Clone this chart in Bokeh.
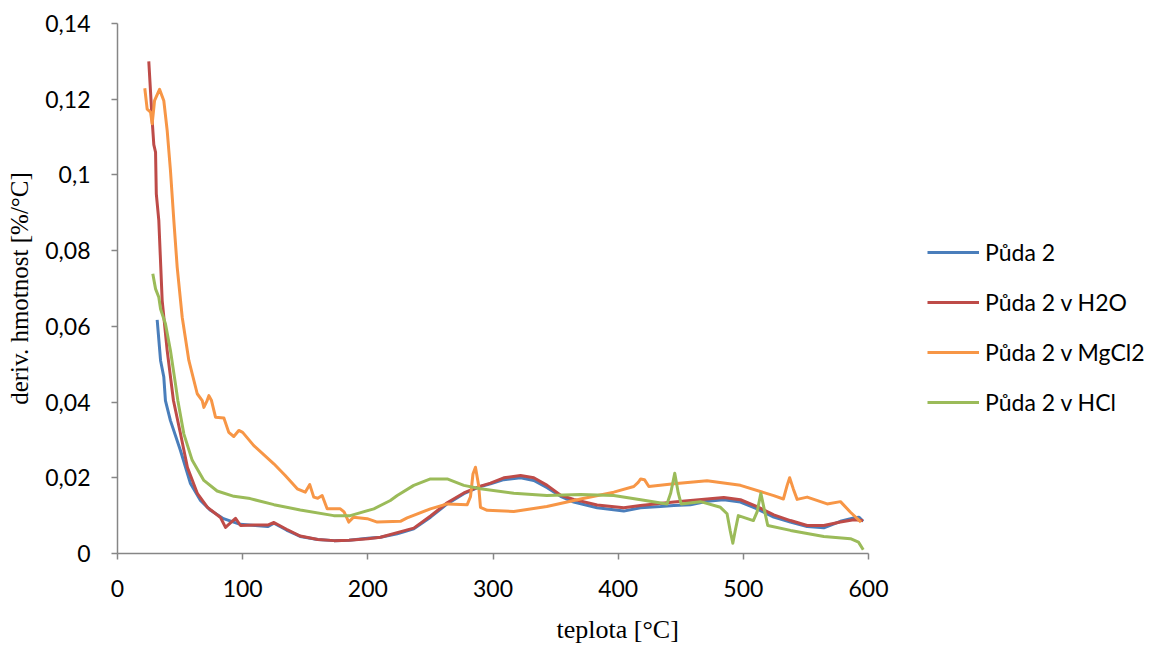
from bokeh.plotting import figure
from bokeh.models import (Legend, LegendItem, FixedTicker, Title, Range1d)
from bokeh.embed import file_html
from bokeh.resources import INLINE

# ---------------- data ----------------
x_tick_values = [0, 100, 200, 300, 400, 500, 600]
x_tick_labels = ["0", "100", "200", "300", "400", "500", "600"]
y_tick_values = [0, 0.02, 0.04, 0.06, 0.08, 0.10, 0.12, 0.14]
y_tick_labels = ["0", "0,02", "0,04", "0,06", "0,08", "0,1", "0,12", "0,14"]

series_names = ["Půda 2", "Půda 2 v H2O", "Půda 2 v MgCl2", "Půda 2 v HCl"]
series_colors = ["#4a7ebb", "#be4b48", "#f79646", "#9bbb59"]

puda_x = [31.7, 34.4, 37, 38.3, 42.3, 50.3, 58.3, 66.3, 74.3, 84.7, 98, 110, 120, 125,
          135, 146, 160, 173, 185, 200, 210.1, 223.5, 236.7, 250.1, 263.4, 276.7, 290,
          298, 308.6, 322, 332.6, 343.3, 354, 364.5, 383.2, 404.5, 417.8, 433.8, 444.5,
          457.8, 471.1, 484.4, 497.7, 511, 524.3, 537.6, 551, 564.3, 577.6, 588.2,
          592.3, 595.7]
puda_y = [0.0617, 0.051, 0.0466, 0.0404, 0.0351, 0.0272, 0.0185, 0.014, 0.0114, 0.0092,
          0.0077, 0.0074, 0.0071, 0.0080, 0.0062, 0.0045, 0.0037, 0.0034, 0.0035, 0.0040,
          0.0043, 0.0052, 0.0065, 0.0096, 0.0131, 0.0158, 0.0177, 0.0184, 0.0195, 0.0200,
          0.0193, 0.0174, 0.0151, 0.0136, 0.0121, 0.0112, 0.0121, 0.0124, 0.0127, 0.0129,
          0.0138, 0.0142, 0.0136, 0.0118, 0.0096, 0.0083, 0.0071, 0.0068, 0.0085, 0.0094,
          0.0096, 0.0085]

h2o_x = [25, 27.7, 29, 30.4, 31, 33, 35.7, 39.7, 44.7, 50.3, 55.9, 63.9, 71.9, 82.3, 86.3,
         90, 94.3, 98.3, 110, 120, 125, 135, 146, 160, 173, 185, 200, 210.1, 236.7, 250.1,
         263.4, 276.7, 290, 298, 308.6, 322, 332.6, 343.3, 354, 364.5, 383.2, 404.5,
         417.8, 444.5, 471.1, 484.4, 497.7, 511, 524.3, 537.6, 551, 564.3, 577.6, 588.2,
         595.7]
h2o_y = [0.130, 0.1144, 0.108, 0.106, 0.095, 0.088, 0.0668, 0.0536, 0.0404, 0.0317, 0.0227,
         0.0158, 0.0122, 0.0095, 0.0069, 0.0080, 0.0093, 0.0074, 0.0075, 0.0075, 0.0082,
         0.0064, 0.0046, 0.0037, 0.0034, 0.0035, 0.0039, 0.0043, 0.0067, 0.0099, 0.0134,
         0.0160, 0.0178, 0.0186, 0.0200, 0.0206, 0.0200, 0.0180, 0.0154, 0.0143, 0.0128,
         0.0121, 0.0127, 0.0136, 0.0144, 0.0148, 0.0142, 0.0124, 0.0102, 0.0087, 0.0074,
         0.0074, 0.0083, 0.0089, 0.0087]

mgcl2_x = [21.8, 23.7, 26.4, 27.7, 29.6, 33.6, 37, 39.7, 42.3, 45, 47.7, 51.7, 57, 63.7,
           67.7, 69, 71.6, 73, 75, 78.3, 85, 88.9, 92.9, 96.9, 100, 108.9, 124.9, 134,
           143.6, 150, 153.6, 156.8, 160, 163.5, 167.5, 178, 181, 184.8, 188.6, 199.5,
           207.5, 226, 231.4, 250, 263.4, 279.4, 282, 284, 286, 288.5, 290, 295.4, 316.6,
           343, 370, 396.5, 412.5, 416, 418, 421, 424.5, 444.5, 471, 497.7, 524.3, 532,
           535, 537, 540, 543, 551, 567, 577.6, 585.6, 594]
mgcl2_y = [0.1229, 0.1174, 0.1166, 0.1135, 0.1196, 0.1226, 0.1196, 0.1117, 0.1012, 0.088,
           0.0756, 0.0624, 0.051, 0.0422, 0.0404, 0.0386, 0.0404, 0.0417, 0.0405, 0.036,
           0.0358, 0.032, 0.0309, 0.0325, 0.032, 0.0285, 0.0237, 0.0206, 0.0171, 0.0162,
           0.0182, 0.0149, 0.0146, 0.0153, 0.0118, 0.0118, 0.0110, 0.0083, 0.0096, 0.0092,
           0.0083, 0.0085, 0.0094, 0.0118, 0.0131, 0.0129, 0.0150, 0.0210, 0.0228, 0.0180,
           0.0122, 0.0114, 0.0111, 0.0124, 0.0144, 0.0162, 0.0177, 0.0188, 0.0197, 0.0195,
           0.0177, 0.0184, 0.0192, 0.0180, 0.0153, 0.0144, 0.0180, 0.0200, 0.0170, 0.0143,
           0.0149, 0.0131, 0.0137, 0.0109, 0.0083]

hcl_x = [28.2, 30.4, 33, 34.4, 38.3, 42.3, 46.3, 48.2, 53, 59.7, 69, 79.6, 93, 106, 125,
         146, 172.8, 186, 204.8, 218, 223.5, 236.7, 250, 263.4, 276.7, 290, 316.6, 343,
         370, 396.5, 418, 439, 442, 445.2, 448, 450.3, 465.8, 481.7, 487, 489.5, 491.6,
         493.5, 496, 508, 511, 514, 516.5, 519.5, 537.7, 564.3, 585.6, 592, 595.8]
hcl_y = [0.0739, 0.0699, 0.0677, 0.0646, 0.0607, 0.0536, 0.0448, 0.0404, 0.0316, 0.0246,
         0.0193, 0.0165, 0.0151, 0.0145, 0.0129, 0.0115, 0.0100, 0.0100, 0.0118, 0.0140,
         0.0153, 0.0180, 0.0197, 0.0197, 0.0180, 0.0171, 0.0159, 0.0153, 0.0156, 0.0153,
         0.0142, 0.0131, 0.0160, 0.0212, 0.0160, 0.0131, 0.0137, 0.0122, 0.0105, 0.0060,
         0.0027, 0.0060, 0.0100, 0.0087, 0.0110, 0.0159, 0.0120, 0.0074, 0.0061, 0.0045,
         0.0039, 0.0030, 0.0010]

all_x = [puda_x, h2o_x, mgcl2_x, hcl_x]
all_y = [puda_y, h2o_y, mgcl2_y, hcl_y]

# ---------------- figure ----------------
p = figure(frame_width=751, frame_height=530, output_backend="svg", toolbar_location=None,
           x_range=Range1d(0, 600), y_range=Range1d(0, 0.14),
           min_border_left=117, min_border_right=274, min_border_top=23,
           min_border_bottom=0)
p.outline_line_color = None
p.xgrid.visible = False
p.ygrid.visible = False
p.background_fill_color = "white"
p.border_fill_color = "white"

renderers = []
for xs, ys, c in zip(all_x, all_y, series_colors):
    r = p.line(xs, ys, line_color=c, line_width=3, line_join="round")
    renderers.append(r)

axis_color = "#868686"
for ax in (p.xaxis[0], p.yaxis[0]):
    ax.axis_line_color = axis_color
    ax.axis_line_width = 1.5
    ax.major_tick_line_color = axis_color
    ax.major_tick_line_width = 1.5
    ax.major_tick_in = 0
    ax.major_tick_out = 6
    ax.minor_tick_line_color = None
    ax.major_label_text_font = "Lato"
    ax.major_label_text_font_size = "23px"
    ax.major_label_text_color = "black"

p.xaxis[0].ticker = FixedTicker(ticks=x_tick_values)
p.xaxis[0].major_label_overrides = {v: l for v, l in zip(x_tick_values, x_tick_labels)}
p.xaxis[0].major_label_standoff = 20

p.yaxis[0].ticker = FixedTicker(ticks=y_tick_values)
p.yaxis[0].major_label_overrides = {v: l for v, l in zip(y_tick_values, y_tick_labels)}
p.yaxis[0].major_label_standoff = 21
p.yaxis[0].axis_label = "deriv. hmotnost [%/°C]"
p.yaxis[0].axis_label_text_font = "Liberation Serif"
p.yaxis[0].axis_label_text_font_size = "25px"
p.yaxis[0].axis_label_text_font_style = "normal"
p.yaxis[0].axis_label_text_color = "black"
p.yaxis[0].axis_label_standoff = 9

xt = Title(text="teplota [°C]", align="left", offset=439,
           text_font="Liberation Serif", text_font_size="26px",
           text_font_style="normal", text_color="black", standoff=27)
p.add_layout(xt, "below")

items = [LegendItem(label=n, renderers=[r]) for n, r in zip(series_names, renderers)]
legend = Legend(items=items, location=(59, 137))
legend.label_text_font = "Lato"
legend.label_text_font_size = "23px"
legend.label_text_color = "black"
legend.glyph_width = 52
legend.glyph_height = 24
legend.label_height = 24
legend.label_standoff = 6
legend.spacing = 22
legend.padding = 0
legend.margin = 0
legend.border_line_color = None
legend.background_fill_alpha = 0
p.add_layout(legend, "right")

open("out.html", "w").write(file_html(p, INLINE))
